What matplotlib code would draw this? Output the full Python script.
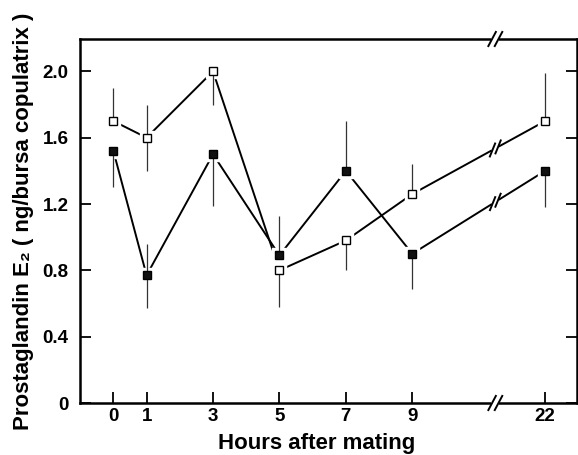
import matplotlib
matplotlib.use("Agg")
import matplotlib.pyplot as plt
import numpy as np

plt.rcParams['font.family'] = ['Liberation Sans', 'DejaVu Sans']

hours_labels = ['0', '1', '3', '5', '7', '9', '22']
hours_pos = [0, 1, 3, 5, 7, 9, 13]   # 22 h drawn after an axis break
break_x = 11.5

open_vals = [1.70, 1.60, 2.00, 0.80, 0.98, 1.26, 1.70]
open_err_lo = [0.00, 0.20, 0.20, 0.22, 0.18, 0.00, 0.00]
open_err_hi = [0.20, 0.20, 0.00, 0.00, 0.00, 0.18, 0.29]

filled_vals = [1.52, 0.77, 1.50, 0.89, 1.40, 0.90, 1.40]
filled_err_lo = [0.22, 0.20, 0.31, 0.00, 0.00, 0.21, 0.22]
filled_err_hi = [0.00, 0.19, 0.00, 0.24, 0.30, 0.00, 0.00]

yticks = [0, 0.4, 0.8, 1.2, 1.6, 2.0]
ytick_labels = ['0', '0.4', '0.8', '1.2', '1.6', '2.0']

fig = plt.figure(figsize=(5.78, 4.55), dpi=100)
ax = fig.add_axes([79.5/578, 52/455, 497.5/578, 364/455])
ax.set_xlim(-1.02, 13.96)
ax.set_ylim(0, 2.195)

for vals, lo, hi, face in [(open_vals, open_err_lo, open_err_hi, 'white'),
                           (filled_vals, filled_err_lo, filled_err_hi, '#111111')]:
    ax.plot(hours_pos, vals, color='black', lw=1.4, zorder=1)
    ax.plot(hours_pos, vals, ls='none', marker='s', ms=10.5, mfc='white',
            mec='white', zorder=2)
    ax.errorbar(hours_pos, vals, yerr=[lo, hi], fmt='none', ecolor='#333333',
                elinewidth=0.9, capsize=0, zorder=3)
    ax.plot(hours_pos, vals, ls='none', marker='s', ms=5.3, mfc=face,
            mec='black', mew=1.0, zorder=4)

for s in ax.spines.values():
    s.set_linewidth(1.8)

ax.set_xticks(hours_pos)
ax.set_xticklabels(hours_labels)
ax.set_yticks(yticks)
ax.set_yticklabels(ytick_labels)
ax.tick_params(axis='both', direction='in', length=8, width=1.3,
               labelsize=13.5)
ax.tick_params(axis='x', pad=3.5)
ax.tick_params(axis='y', right=True, left=True, pad=8)
for lab in ax.get_xticklabels() + ax.get_yticklabels():
    lab.set_fontweight('bold')

ax.set_xlabel('Hours after mating', fontsize=16, fontweight='bold')
ax.set_ylabel('Prostaglandin E\u2082 ( ng/bursa copulatrix )', fontsize=16,
              fontweight='bold')
ax.xaxis.set_label_coords((317 - 79.5) / 497.5, -0.0824)
ax.yaxis.set_label_coords(-0.0915, 0.5)

# break marks
fig.canvas.draw()
inv = ax.transData.inverted()

def break_mark(xd, yd, angle_deg, gap=5, half=7, tilt=65, clip=False):
    px, py = ax.transData.transform((xd, yd))
    a = np.deg2rad(angle_deg)
    ux, uy = np.cos(a), np.sin(a)
    p1 = inv.transform((px - ux*gap, py - uy*gap))
    p2 = inv.transform((px + ux*gap, py + uy*gap))
    ax.plot([p1[0], p2[0]], [p1[1], p2[1]], color='white', lw=4,
            zorder=5, clip_on=clip, solid_capstyle='butt')
    t = np.deg2rad(tilt)
    vx, vy = np.cos(t), np.sin(t)
    for s in (-1, 1):
        cx, cy = px + s*ux*gap*0.8, py + s*uy*gap*0.8
        q1 = inv.transform((cx - vx*half, cy - vy*half))
        q2 = inv.transform((cx + vx*half, cy + vy*half))
        ax.plot([q1[0], q2[0]], [q1[1], q2[1]], color='black', lw=1.4,
                zorder=6, clip_on=clip)

def line_angle(x0, y0, x1, y1):
    a = ax.transData.transform((x0, y0))
    b = ax.transData.transform((x1, y1))
    return np.degrees(np.arctan2(b[1]-a[1], b[0]-a[0]))

for vals in (open_vals, filled_vals):
    x0, y0, x1, y1 = hours_pos[-2], vals[-2], hours_pos[-1], vals[-1]
    yb = y0 + (y1 - y0) * (break_x - x0) / (x1 - x0)
    break_mark(break_x, yb, line_angle(x0, y0, x1, y1), gap=4, half=7, tilt=68)

ylo, yhi = ax.get_ylim()
break_mark(break_x, yhi, 0, gap=4, half=8, tilt=62)
break_mark(break_x, ylo, 0, gap=4, half=8, tilt=62)

fig.savefig('out.png', dpi=100)
